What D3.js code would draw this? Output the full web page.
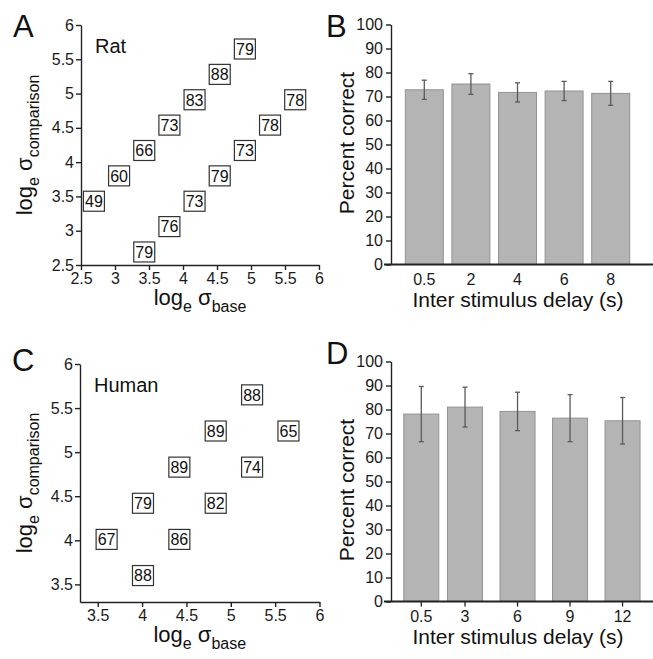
<!DOCTYPE html>
<html>
<head>
<meta charset="utf-8">
<script src="https://cdn.jsdelivr.net/npm/d3@7"></script>
<style>
  body { margin: 0; background: #fff; }
  svg { font-family: "Liberation Sans", Arial, sans-serif; }
  .axis path, .axis line { stroke: #222; stroke-width: 1.4; }
  .axis text { font-size: 16px; fill: #1a1a1a; font-family: "Liberation Sans", Arial, sans-serif; }
</style>
</head>
<body>
<script>
// Panel A - rat, log sigma pairs and percent correct
const ratBase = [2.69, 3.06, 3.43, 3.80, 4.17, 4.54, 4.91, 3.43, 3.80, 4.17, 4.54, 4.91, 5.28, 5.65];
const ratComp = [3.43, 3.80, 4.17, 4.54, 4.91, 5.28, 5.65, 2.69, 3.06, 3.43, 3.80, 4.17, 4.54, 4.91];
const ratPct  = [49, 60, 66, 73, 83, 88, 79, 79, 76, 73, 79, 73, 78, 78];
const ratTicks = [2.5, 3, 3.5, 4, 4.5, 5, 5.5, 6];

// Panel C - human
const humanBase = [3.60, 4.01, 4.01, 4.42, 4.42, 4.83, 4.83, 5.24, 5.24, 5.65];
const humanComp = [4.01, 3.60, 4.42, 4.01, 4.83, 4.42, 5.24, 4.83, 5.65, 5.24];
const humanPct  = [67, 88, 79, 86, 89, 82, 89, 74, 88, 65];
const humanTicks = [3.5, 4, 4.5, 5, 5.5, 6];

// Panel B - rat, delay vs percent correct
const ratDelays = ['0.5', '2', '4', '6', '8'];
const ratMean = [72.8, 75.2, 71.7, 72.3, 71.3];
const ratErr  = [4.0, 4.3, 4.0, 4.0, 5.0];

// Panel D - human, delay vs percent correct
const humanDelays = [0.5, 3, 6, 9, 12];
const humanMean = [78.1, 81.0, 79.2, 76.4, 75.3];
const humanErr  = [11.5, 8.3, 8.0, 9.8, 9.7];

const pctTicks = [0, 10, 20, 30, 40, 50, 60, 70, 80, 90, 100];

const svg = d3.select('body').append('svg')
    .attr('width', 653)
    .attr('height', 659);

// log_e sigma_xxx label with subscripts
function logLabel(sel, sub) {
    sel.append('tspan').attr('font-size', 22).text('log');
    sel.append('tspan').attr('font-size', 16).attr('dy', 7).text('e');
    sel.append('tspan').attr('font-size', 22).attr('dy', -7).text(' σ');
    sel.append('tspan').attr('font-size', 16).attr('dy', 7).text(sub);
}

function panelLetter(x, y, t) {
    svg.append('text').attr('x', x).attr('y', y)
        .attr('font-size', 31).attr('fill', '#111').text(t);
}

function scatterPanel(cfg) {
    const g = svg.append('g');
    const x = d3.scaleLinear().domain(cfg.domain).range(cfg.xRange);
    const y = d3.scaleLinear().domain(cfg.domain).range(cfg.yRange);
    const fmt = d3.format('~g');

    g.append('g').classed('axis', true)
        .attr('transform', `translate(0,${cfg.yRange[0]})`)
        .call(d3.axisBottom(x).tickValues(cfg.ticks).tickFormat(fmt).tickSize(5).tickSizeOuter(0).tickPadding(3));
    g.append('g').classed('axis', true)
        .attr('transform', `translate(${cfg.xRange[0]},0)`)
        .call(d3.axisLeft(y).tickValues(cfg.ticks).tickFormat(fmt).tickSize(5).tickSizeOuter(0).tickPadding(2));

    const pts = cfg.base.map((b, i) => [b, cfg.comp[i], cfg.pct[i]]);
    const cell = g.selectAll('g.cell').data(pts).join('g').classed('cell', true)
        .attr('transform', d => `translate(${x(d[0])},${y(d[1])})`);
    cell.append('rect')
        .attr('x', -10.5).attr('y', -10).attr('width', 21).attr('height', 20)
        .attr('fill', '#fff').attr('stroke', '#333').attr('stroke-width', 1.2);
    cell.append('text')
        .attr('text-anchor', 'middle').attr('dy', '0.36em')
        .attr('font-size', 16).attr('fill', '#111')
        .text(d => d[2]);

    // species label
    g.append('text').attr('x', cfg.xRange[0] + 14).attr('y', cfg.yRange[1] + 28)
        .attr('font-size', 20).attr('fill', '#111').text(cfg.name);

    // axis titles
    const xl = g.append('text')
        .attr('x', (cfg.xRange[0] + cfg.xRange[1]) / 2).attr('y', cfg.yRange[0] + 40)
        .attr('text-anchor', 'middle').attr('fill', '#111');
    logLabel(xl, 'base');
    const yl = g.append('text')
        .attr('transform', `translate(32,${(cfg.yRange[0] + cfg.yRange[1]) / 2}) rotate(-90)`)
        .attr('text-anchor', 'middle').attr('fill', '#111');
    logLabel(yl, 'comparison');
}

function barPanel(cfg) {
    const g = svg.append('g');
    const y = d3.scaleLinear().domain([0, 100]).range([cfg.top + 240, cfg.top]);
    const base = y(0);
    let xPos, bw;
    if (cfg.linear) {
        const x = d3.scaleLinear().domain([-1.23, 13.74]).range([391, 653]);
        xPos = d => x(d);
        bw = x(2) - x(0);
    } else {
        const x = d3.scaleBand().domain(cfg.delays).range([401, 634]).paddingInner(0.185).paddingOuter(0.0925);
        xPos = d => x(d) + x.bandwidth() / 2;
        bw = x.bandwidth();
    }
    const rows = cfg.delays.map((d, i) => ({ d, m: cfg.mean[i], e: cfg.err[i] }));

    g.selectAll('rect.bar').data(rows).join('rect').classed('bar', true)
        .attr('x', r => xPos(r.d) - bw / 2)
        .attr('y', r => y(r.m))
        .attr('width', bw)
        .attr('height', r => base - y(r.m))
        .attr('fill', '#b4b4b4').attr('stroke', '#929292').attr('stroke-width', 1);

    // error bars
    const eb = g.selectAll('g.err').data(rows).join('g').classed('err', true)
        .attr('stroke', '#5a5a5a').attr('stroke-width', 1.3);
    eb.append('line')
        .attr('x1', r => xPos(r.d)).attr('x2', r => xPos(r.d))
        .attr('y1', r => y(r.m + r.e)).attr('y2', r => y(r.m - r.e));
    eb.append('line')
        .attr('x1', r => xPos(r.d) - 2.5).attr('x2', r => xPos(r.d) + 2.5)
        .attr('y1', r => y(r.m + r.e)).attr('y2', r => y(r.m + r.e));
    eb.append('line')
        .attr('x1', r => xPos(r.d) - 2.5).attr('x2', r => xPos(r.d) + 2.5)
        .attr('y1', r => y(r.m - r.e)).attr('y2', r => y(r.m - r.e));

    // y axis
    g.append('g').classed('axis', true)
        .attr('transform', 'translate(391,0)')
        .call(d3.axisLeft(y).tickValues(pctTicks).tickSize(5).tickSizeOuter(0).tickPadding(3))
        .select('.domain').attr('stroke-width', 2);

    // x baseline + tick labels
    g.append('line').attr('x1', 384).attr('x2', 653).attr('y1', base).attr('y2', base)
        .attr('stroke', '#222').attr('stroke-width', 2);
    const tk = g.selectAll('g.xt').data(rows).join('g').classed('xt', true)
        .attr('transform', r => `translate(${xPos(r.d)},${base})`);
    if (cfg.linear) {
        tk.append('line').attr('y1', 0).attr('y2', 5).attr('stroke', '#222').attr('stroke-width', 1.3);
    }
    tk.append('text').attr('y', 20).attr('text-anchor', 'middle')
        .attr('font-size', 16).attr('fill', '#1a1a1a').text(r => r.d);

    g.append('text').attr('x', 518).attr('y', base + 42)
        .attr('text-anchor', 'middle').attr('font-size', 21).attr('fill', '#111')
        .text('Inter stimulus delay (s)');
    g.append('text')
        .attr('transform', `translate(354,${cfg.labelY}) rotate(-90)`)
        .attr('text-anchor', 'middle').attr('font-size', 21).attr('fill', '#111')
        .text('Percent correct');
}

scatterPanel({ name: 'Rat', domain: [2.5, 6], xRange: [81, 319], yRange: [265, 25],
    ticks: ratTicks, base: ratBase, comp: ratComp, pct: ratPct });
scatterPanel({ name: 'Human', domain: [3.3, 6], xRange: [80, 319.5], yRange: [602, 364],
    ticks: humanTicks, base: humanBase, comp: humanComp, pct: humanPct });
barPanel({ top: 24.5, delays: ratDelays, mean: ratMean, err: ratErr, linear: false, labelY: 143 });
barPanel({ top: 361.5, delays: humanDelays, mean: humanMean, err: humanErr, linear: true, labelY: 490 });

panelLetter(13, 37, 'A');
panelLetter(326, 37, 'B');
panelLetter(12, 371, 'C');
panelLetter(326, 364, 'D');
</script>
</body>
</html>
